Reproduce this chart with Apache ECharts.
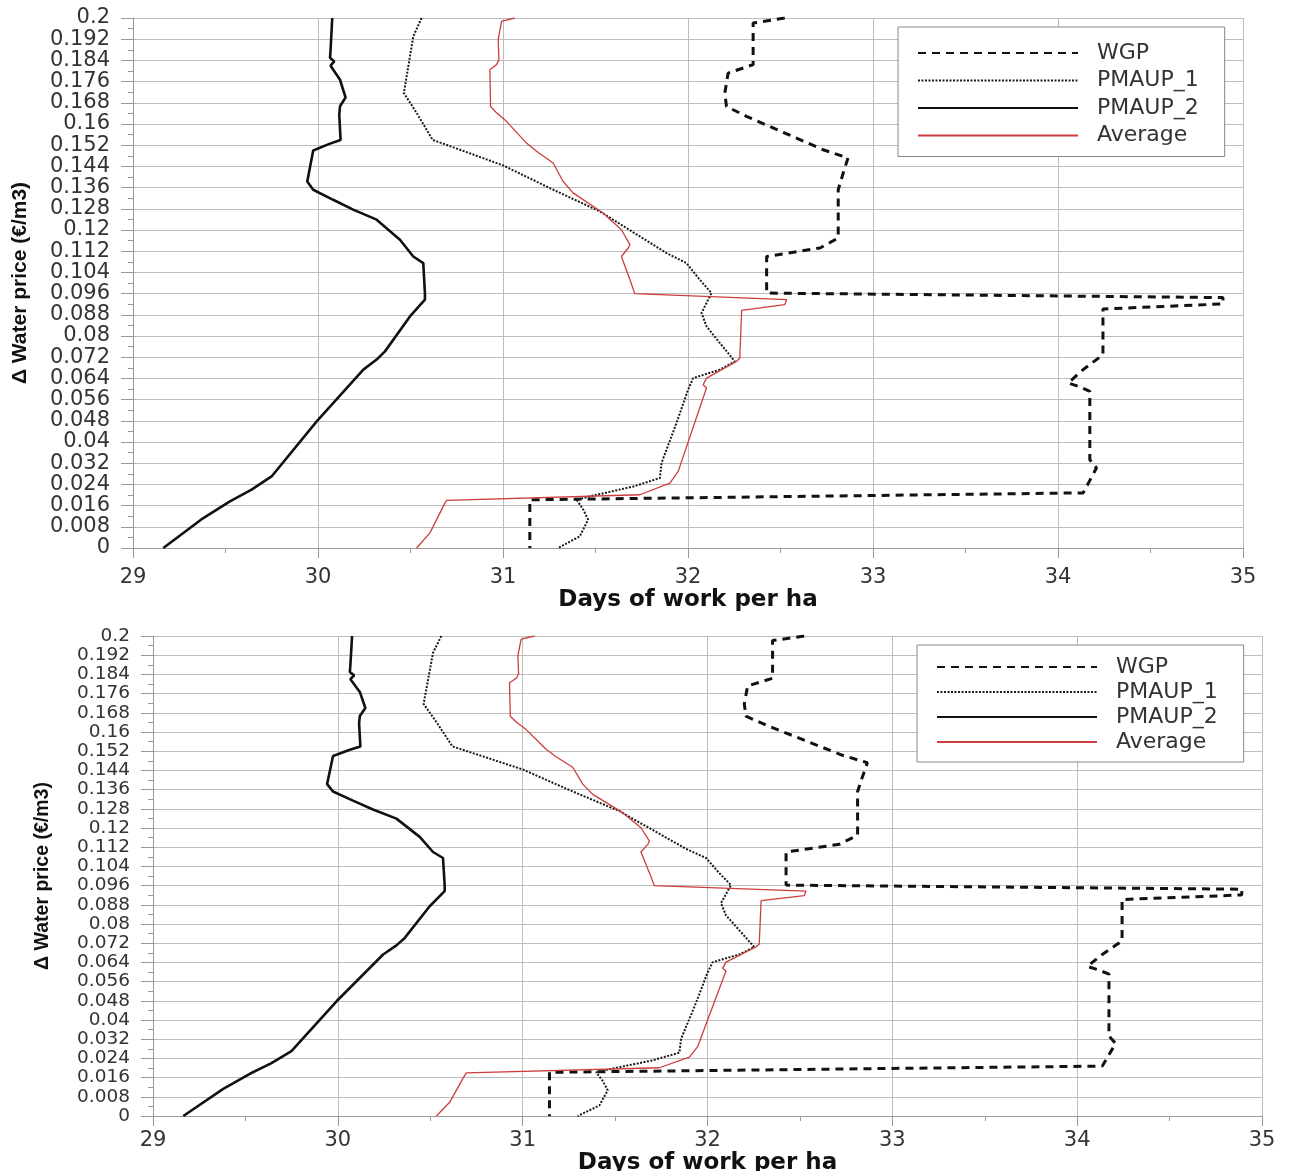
<!DOCTYPE html>
<html>
<head>
<meta charset="utf-8">
<script src="https://cdn.jsdelivr.net/npm/echarts@6/dist/echarts.min.js"></script>
<style>
html,body{margin:0;padding:0;background:#fff;}
#chart{width:1291px;height:1171px;}
</style>
</head>
<body>
<div id="chart"></div>
<script>
// ---- Data (x = days of work per ha, y = Δ water price €/m3) ----
const seriesNames = ['WGP', 'PMAUP_1', 'PMAUP_2', 'Average'];

const wgpPrice = [0.2, 0.1981, 0.1824, 0.1792, 0.1717, 0.1666, 0.1629, 0.1503, 0.1472, 0.1415, 0.1352, 0.117, 0.1132, 0.110, 0.0962, 0.0945, 0.0921, 0.0902, 0.0729, 0.0711, 0.0673, 0.0623, 0.0608, 0.0591, 0.0333, 0.0302, 0.0208, 0.0182, 0];
const wgpDays  = [32.523, 32.352, 32.352, 32.217, 32.199, 32.208, 32.316, 32.73, 32.865, 32.839, 32.812, 32.812, 32.713, 32.425, 32.425, 34.892, 34.89, 34.243, 34.243, 34.208, 34.136, 34.055, 34.118, 34.172, 34.172, 34.208, 34.136, 31.145, 31.145];

const pm1Price = [0.2, 0.193, 0.1817, 0.1717, 0.1642, 0.154, 0.1444, 0.1358, 0.127, 0.1113, 0.1075, 0.1012, 0.0962, 0.0956, 0.0887, 0.0836, 0.0704, 0.0673, 0.0641, 0.0597, 0.0472, 0.0321, 0.0264, 0.0232, 0.0195, 0.0182, 0.0145, 0.0107, 0.0044, 0];
const pm1Days  = [30.56, 30.515, 30.488, 30.464, 30.533, 30.62, 31.0, 31.253, 31.524, 31.884, 31.992, 32.064, 32.127, 32.127, 32.073, 32.1, 32.253, 32.172, 32.028, 32.0, 31.938, 31.857, 31.848, 31.704, 31.47, 31.398, 31.434, 31.46, 31.415, 31.298];

const pm2Price = [0.2, 0.188, 0.185, 0.1836, 0.182, 0.1767, 0.170, 0.1667, 0.1635, 0.154, 0.1526, 0.150, 0.1383, 0.1352, 0.1314, 0.1277, 0.1239, 0.1163, 0.110, 0.1075, 0.0962, 0.0937, 0.0874, 0.0742, 0.0711, 0.0673, 0.0478, 0.0270, 0.022, 0.0176, 0.0113, 0];
const pm2Days  = [30.077, 30.068, 30.065, 30.088, 30.068, 30.119, 30.149, 30.119, 30.115, 30.122, 30.065, 29.974, 29.942, 29.974, 30.082, 30.19, 30.317, 30.443, 30.515, 30.569, 30.578, 30.578, 30.497, 30.362, 30.317, 30.245, 29.993, 29.749, 29.641, 29.524, 29.38, 29.164];

const avgPrice = [0.2, 0.1987, 0.1918, 0.1843, 0.1824, 0.1805, 0.1666, 0.1642, 0.161, 0.1528, 0.1497, 0.1453, 0.1383, 0.134, 0.1264, 0.1201, 0.1145, 0.1132, 0.110, 0.1013, 0.096, 0.0937, 0.0918, 0.0897, 0.0717, 0.0704, 0.0641, 0.0616, 0.0604, 0.0308, 0.0289, 0.0245, 0.0201, 0.018, 0.0157, 0.0107, 0.0057, 0];
const avgDays  = [31.064, 30.992, 30.974, 30.978, 30.965, 30.929, 30.933, 30.965, 31.019, 31.127, 31.181, 31.271, 31.325, 31.379, 31.541, 31.64, 31.686, 31.677, 31.64, 31.686, 31.712, 32.533, 32.523, 32.29, 32.28, 32.262, 32.1, 32.082, 32.1, 31.956, 31.947, 31.902, 31.74, 30.695, 30.677, 30.641, 30.605, 30.533];

const xTitle = 'Days of work per ha';
const yTitle = '\u0394 Water price (\u20ac/m3)';

// ---- Build chart ----
function zip(xs, ys) { return xs.map((x, i) => [x, ys[i]]); }

const styles = {
  'WGP':     { color: '#111', width: 3, type: [8, 6] },
  'PMAUP_1': { color: '#1a1a1a', width: 2, type: [2, 1.5] },
  'PMAUP_2': { color: '#111', width: 2.6, type: 'solid' },
  'Average': { color: '#cc3d3d', width: 1.3, type: 'solid' }
};
const dataMap = {
  'WGP': zip(wgpDays, wgpPrice),
  'PMAUP_1': zip(pm1Days, pm1Price),
  'PMAUP_2': zip(pm2Days, pm2Price),
  'Average': zip(avgDays, avgPrice)
};

const gridDefs = [
  { left: 133, top: 18, width: 1110, height: 530, xLabMargin: 19, xNameGap: 33, yNameGap: 102, yNameSize: 21, lab: 21, labLH: 16,
    legend: { left: 898, top: 27, gap: 5.5, padding: [15, 26, 10, 19] } },
  { left: 153, top: 636, width: 1109, height: 480, xLabMargin: 14, xNameGap: 29, yNameGap: 100, yNameSize: 19.5, lab: 18.5, labLH: 13,
    legend: { left: 917, top: 645, gap: 3, padding: [11, 26, 9, 19] } }
];

const option = {
  animation: false,
  backgroundColor: '#fff',
  grid: [], xAxis: [], yAxis: [], series: [], legend: []
};

gridDefs.forEach((g, gi) => {
  option.grid.push({ left: g.left, top: g.top, width: g.width, height: g.height, containLabel: false, outerBoundsMode: 'none' });
  option.xAxis.push({
    type: 'value', gridIndex: gi, min: 29, max: 35, interval: 1,
    name: xTitle, nameLocation: 'middle', nameGap: g.xNameGap,
    nameTextStyle: { fontFamily: 'DejaVu Sans', fontWeight: 'bold', fontSize: 23, color: '#111' },
    axisLine: { show: true, lineStyle: { color: '#999', width: 1 } },
    axisTick: { show: true, length: 10, lineStyle: { color: '#999' } },
    minorTick: { show: true, splitNumber: 2, length: 5, lineStyle: { color: '#999' } },
    axisLabel: { margin: g.xLabMargin, fontFamily: 'DejaVu Sans', fontSize: 21, color: '#333',
      showMinLabel: true, showMaxLabel: true, hideOverlap: false },
    splitLine: { show: true, lineStyle: { color: '#bdbdbd', width: 1 } }
  });
  option.yAxis.push({
    type: 'value', gridIndex: gi, min: 0, max: 0.2, interval: 0.008,
    name: yTitle, nameLocation: 'middle', nameGap: g.yNameGap, nameRotate: 90,
    nameTextStyle: { fontFamily: 'Liberation Sans, Arial, sans-serif', fontWeight: 'bold', fontSize: g.yNameSize, color: '#111' },
    axisLine: { show: true, lineStyle: { color: '#999', width: 1 } },
    axisTick: { show: true, length: 12, lineStyle: { color: '#999' } },
    minorTick: { show: true, splitNumber: 2, length: 5, lineStyle: { color: '#999' } },
    axisLabel: { margin: 23, fontFamily: 'DejaVu Sans', fontSize: g.lab, lineHeight: g.labLH, color: '#333',
      showMinLabel: true, showMaxLabel: true, hideOverlap: false,
      formatter: v => String(parseFloat(v.toFixed(3))) },
    splitLine: { show: true, lineStyle: { color: '#bdbdbd', width: 1 } }
  });
  seriesNames.forEach(name => {
    const s = styles[name];
    option.series.push({
      name: name, type: 'line', xAxisIndex: gi, yAxisIndex: gi,
      data: dataMap[name], showSymbol: false, symbol: 'none', smooth: false,
      lineStyle: { color: s.color, width: s.width, type: s.type },
      itemStyle: { color: s.color },
      emphasis: { disabled: true }
    });
  });
  option.legend.push({
    show: true, orient: 'vertical', left: g.legend.left, top: g.legend.top,
    data: seriesNames, itemWidth: 160, itemHeight: 12, itemGap: g.legend.gap,
    padding: g.legend.padding,
    itemStyle: { opacity: 0 },
    backgroundColor: '#fff', borderColor: '#888', borderWidth: 1, borderRadius: 0,
    textStyle: { fontFamily: 'DejaVu Sans', fontSize: 22, color: '#333', lineHeight: 22, padding: [0, 0, 0, 14] },
    selectedMode: false
  });
});

const chart = echarts.init(document.getElementById('chart'), null, { renderer: 'canvas' });
chart.setOption(option);
</script>
</body>
</html>
